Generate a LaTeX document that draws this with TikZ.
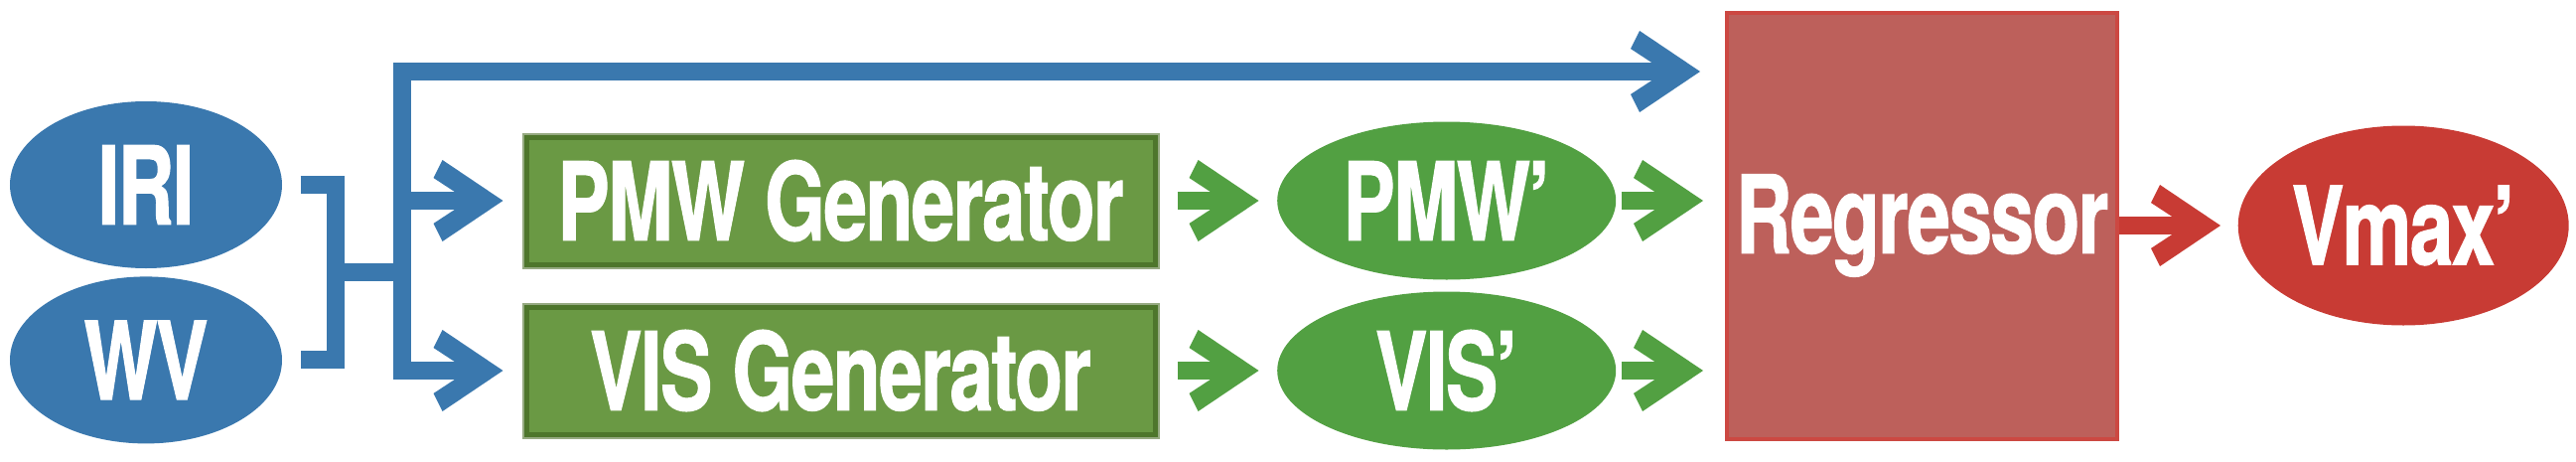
\documentclass[tikz,border=0pt]{standalone}
\usepackage{fontspec}
\newfontfamily\sketchfont[FakeStretch=0.72,FakeBold=1,LetterSpace=-1.5]{TeX Gyre Heros}
\usepackage{tikz}
\usetikzlibrary{arrows.meta,positioning,calc,shapes.geometric}
\definecolor{flowblue}{RGB}{58,120,174}
\definecolor{featgreen}{RGB}{82,160,66}
\definecolor{boxgreen}{RGB}{106,153,68}
\definecolor{boxedge}{RGB}{78,118,44}
\definecolor{boxrim}{RGB}{150,170,130}
\definecolor{regfill}{RGB}{189,96,91}
\definecolor{regedge}{RGB}{204,72,66}
\definecolor{vmaxred}{RGB}{200,59,52}
% thick open chevron tip
\pgfdeclarearrow{
  name=Chevron,
  defaults={length=0.7cm,width=0.82cm},
  parameters={\the\pgfarrowlength,\the\pgfarrowwidth},
  setup code={
    \pgfarrowssettipend{0pt}
    \pgfarrowssetlineend{-0.3\pgfarrowlength}
    \pgfarrowssetbackend{-\pgfarrowlength}
    \pgfarrowssavethe\pgfarrowlength
    \pgfarrowssavethe\pgfarrowwidth
  },
  drawing code={
    \pgfpathmoveto{\pgfpointorigin}
    \pgfpathlineto{\pgfqpoint{-0.871\pgfarrowlength}{0.5\pgfarrowwidth}}
    \pgfpathlineto{\pgfqpoint{-\pgfarrowlength}{0.28\pgfarrowwidth}}
    \pgfpathlineto{\pgfqpoint{-0.5\pgfarrowlength}{0pt}}
    \pgfpathlineto{\pgfqpoint{-\pgfarrowlength}{-0.28\pgfarrowwidth}}
    \pgfpathlineto{\pgfqpoint{-0.871\pgfarrowlength}{-0.5\pgfarrowwidth}}
    \pgfpathclose
    \pgfusepathqfill
  }
}

\begin{document}
\begin{tikzpicture}[font=\sketchfont\bfseries\fontsize{31}{33}\selectfont]
  \tikzset{src/.style={ellipse,fill=flowblue,text=white,minimum width=2.74cm,minimum height=1.68cm,inner sep=0pt}}
  \tikzset{gen/.style={rectangle,fill=boxgreen,draw=boxedge,line width=0.05cm,preaction={draw=boxrim,line width=0.09cm},minimum width=6.33cm,minimum height=1.28cm,inner sep=0pt,text=white}}
  \tikzset{feat/.style={ellipse,fill=featgreen,text=white,minimum width=3.41cm,minimum height=1.59cm,inner sep=0pt}}
  \tikzset{bus/.style={line width=0.18cm,draw=flowblue}}
  \tikzset{flow/.style={line width=0.18cm,-{Chevron}}}
  \useasboundingbox (0,0) rectangle (25.94,4.64);
  % inputs
  \node[src] (iri) at (1.47,2.78) {IRI};
  \node[src,below=0.07cm of iri] (wv) {WV};
  % generators and generated fields
  \node[gen] (genp) at (8.465,2.62) {PMW Generator};
  \node[gen,below=0.38cm of genp] (genv) {VIS Generator};
  \node[feat,right=1.2cm of genp] (pmwp) {PMW’};
  \node[feat,right=1.2cm of genv] (visp) {VIS’};
  % regression
  \node[rectangle,fill=regfill,draw=regedge,line width=0.04cm,minimum width=3.93cm,minimum height=4.29cm,inner sep=0pt,text=white] (reg) at (19.355,2.37) {Regressor};
  \node[ellipse,fill=vmaxred,text=white,minimum width=3.33cm,minimum height=2.01cm,inner sep=0pt,right=1.19cm of reg] (vmax) {Vmax’};
  \coordinate (merge) at (3.37,1.90);
  \coordinate (split) at (4.05,1.90);
  \draw[bus] ([xshift=0.18cm]iri.east) -- ++(0.35,0) |- ([xshift=0.18cm]wv.east);
  \draw[bus] (merge) -- (split);
  \draw[flow,flowblue] (split) |- ([xshift=-0.25cm,yshift=1.55cm]reg.west);
  \draw[flow,flowblue] (split) |- ([xshift=-0.21cm]genp.west);
  \draw[flow,flowblue] (split) |- ([xshift=-0.21cm]genv.west);
  \draw[flow,featgreen,shorten <=0.2cm,shorten >=0.18cm] (genp) -- (pmwp);
  \draw[flow,featgreen,shorten <=0.2cm,shorten >=0.18cm] (genv) -- (visp);
  \draw[flow,featgreen,shorten <=0.05cm,shorten >=0.22cm] (pmwp.east) -- (pmwp.east -| reg.west);
  \draw[flow,featgreen,shorten <=0.05cm,shorten >=0.22cm] (visp.east) -- (visp.east -| reg.west);
  \draw[flow,vmaxred,shorten >=0.17cm] (reg.east) -- (reg.east -| vmax.west);
\end{tikzpicture}
\end{document}
